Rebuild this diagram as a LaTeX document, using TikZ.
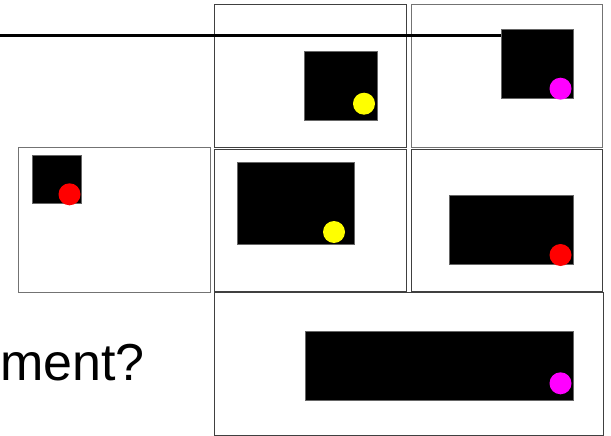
\documentclass[tikz,border=0pt]{standalone}
\usepackage{fontspec}
\setmainfont{Liberation Sans}
\definecolor{dotyellow}{RGB}{255,255,0}
\definecolor{dotmagenta}{RGB}{255,0,255}
\definecolor{dotred}{RGB}{255,0,0}
\tikzset{
 frame/.style={draw=black!75, line width=0.9pt},
 blk/.style={fill=black, draw=black!60, line width=0.6pt},
 dot/.style={circle, inner sep=0pt, minimum size=22pt}
}
\begin{document}
\begin{tikzpicture}[x=1pt,y=-1pt]
\useasboundingbox (0,0) rectangle (611,436);
% frames
\draw[frame] (214.7,4.7) rectangle (406.5,147.7);
\draw[frame, draw=black!55] (411,4.7) rectangle (602.7,147.7);
\draw[frame, draw=black!55] (18,147.3) rectangle (210.4,292);
\draw[frame] (214.7,149) rectangle (406.5,291.5);
\draw[frame] (411,149) rectangle (602.7,291.5);
\draw[frame] (214.7,292) rectangle (603.8,435);
% rule line
\draw[line width=2.3pt] (0,35.5) -- (501,35.5);
% black boxes
\draw[blk] (304.5,51.5) rectangle (377,120.5);
\draw[blk] (501,29) rectangle (573.3,98);
\draw[blk] (32.5,155) rectangle (81.5,203.4);
\draw[blk] (236.8,162.5) rectangle (354.3,244);
\draw[blk] (449.6,195.5) rectangle (573.3,264);
\draw[blk] (305.7,331.5) rectangle (573.3,400);
% dots
\node[dot, fill=dotyellow] (y1) at (364,103.7) {};
\node[dot, fill=dotmagenta] (m1) at (560.5,88.7) {};
\node[dot, fill=dotred] (r1) at (69.5,194.3) {};
\node[dot, fill=dotyellow] (y2) at (334,232) {};
\node[dot, fill=dotred] (r2) at (560.5,255) {};
\node[dot, fill=dotmagenta] (m2) at (560.5,383.3) {};
% text
\node[anchor=base west, inner sep=0pt, font=\fontsize{52}{60}\selectfont] (q) at (0,380) {ment?};
\end{tikzpicture}
\end{document}
